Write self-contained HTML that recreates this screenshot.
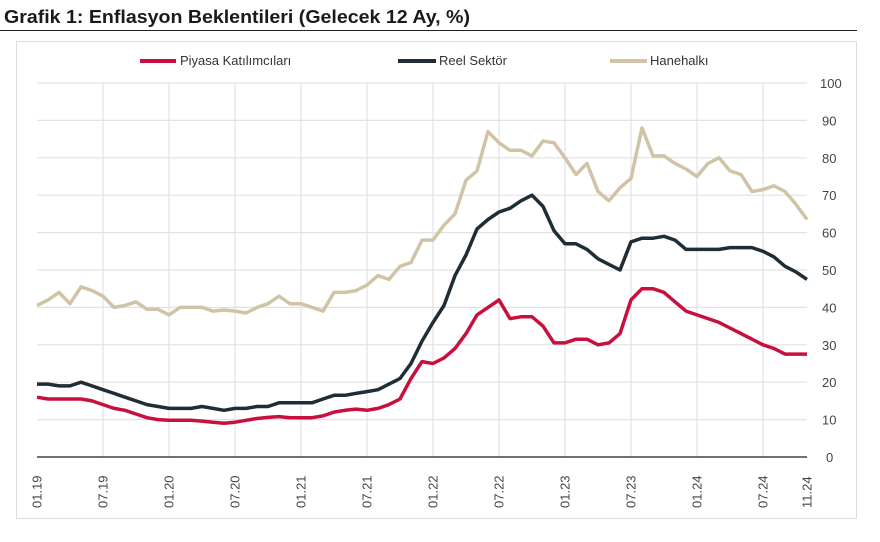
<!DOCTYPE html>
<html><head><meta charset="utf-8"><style>
body{margin:0;background:#fff;width:880px;height:537px;overflow:hidden;font-family:"Liberation Sans",sans-serif}
</style></head><body>
<svg id="s" width="880" height="537" xmlns="http://www.w3.org/2000/svg" font-family="Liberation Sans, sans-serif">
<text x="4" y="23" font-size="18" font-weight="bold" fill="#1a1a1a" textLength="466" lengthAdjust="spacingAndGlyphs">Grafik 1: Enflasyon Beklentileri (Gelecek 12 Ay, %)</text>
<line x1="0" y1="30.5" x2="857" y2="30.5" stroke="#222" stroke-width="1"/>
<rect x="16.5" y="41.5" width="840" height="477" fill="none" stroke="#ddd"/>
<line x1="140" y1="61" x2="176" y2="61" stroke="#c8103e" stroke-width="4"/>
<text x="180" y="65" font-size="13" fill="#333">Piyasa Katılımcıları</text>
<line x1="398" y1="61" x2="436" y2="61" stroke="#1f2d36" stroke-width="4"/>
<text x="439" y="65" font-size="13" fill="#333">Reel Sektör</text>
<line x1="610" y1="61" x2="647" y2="61" stroke="#d1c4a6" stroke-width="4"/>
<text x="650" y="65" font-size="13" fill="#333">Hanehalkı</text>
<g id="g"></g>
</svg>
<script>
var g=document.getElementById('g'),h='';
var X=function(i){return 37+i*11}, Y=function(v){return 457-v*3.74};
for(var v=10;v<=100;v+=10){h+='<line x1="37" x2="807" y1="'+Y(v)+'" y2="'+Y(v)+'" stroke="#e2e2e2" stroke-width="1.2"/>';}
var labs=['01.19','07.19','01.20','07.20','01.21','07.21','01.22','07.22','01.23','07.23','01.24','07.24','11.24'];
for(var k=0;k<13;k++){var i=k<12?k*6:70,x=X(i);
 if(k>0&&k<12)h+='<line x1="'+x+'" x2="'+x+'" y1="83" y2="457" stroke="#e2e2e2" stroke-width="1.2"/>';
 h+='<text transform="translate('+(x+4.5)+',508) rotate(-90)" font-size="13" fill="#444">'+labs[k]+'</text>';}
for(var v=0;v<=100;v+=10){h+='<text x="'+(v==100?820:(v==0?826:822))+'" y="'+(Y(v)+5)+'" font-size="13" fill="#444">'+v+'</text>';}
h+='<line x1="37" x2="807" y1="457" y2="457" stroke="#444" stroke-width="1.5"/>';
var H=[40.5,42,44,41,45.5,44.5,43,40,40.5,41.5,39.5,39.5,38,40,40,40,39,39.3,39,38.5,40,41,43,41,41,40,39,44,44,44.5,46,48.5,47.5,51,52,58,58,62,65,74,76.5,87,84,82,82,80.5,84.5,84,80,75.5,78.5,71,68.5,72,74.5,88,80.5,80.5,78.5,77,75,78.5,80,76.5,75.5,71,71.5,72.5,71,67.5,63.5];
var R=[19.5,19.5,19,19,20,19,18,17,16,15,14,13.5,13,13,13,13.5,13,12.5,13,13,13.5,13.5,14.5,14.5,14.5,14.5,15.5,16.5,16.5,17,17.5,18,19.5,21,25,31,36,40.5,48.5,54,61,63.5,65.5,66.5,68.5,70,67,60.5,57,57,55.5,53,51.5,50,57.5,58.5,58.5,59,58,55.5,55.5,55.5,55.5,56,56,56,55,53.5,51,49.5,47.5];
var P=[16,15.5,15.5,15.5,15.5,15,14,13,12.5,11.5,10.5,10,9.8,9.8,9.8,9.6,9.3,9,9.3,9.8,10.3,10.6,10.8,10.5,10.5,10.5,11,12,12.5,12.8,12.5,13,14,15.5,21,25.5,25,26.5,29,33,38,40,42,37,37.5,37.5,35,30.5,30.5,31.5,31.5,30,30.5,33,42,45,45,44,41.5,39,38,37,36,34.5,33,31.5,30,29,27.5,27.5,27.5];
function pl(a,c){return '<polyline fill="none" stroke="'+c+'" stroke-width="3.5" stroke-linejoin="round" points="'+a.map(function(v,i){return X(i)+','+Y(v).toFixed(1)}).join(' ')+'"/>';}
h+=pl(H,'#d1c4a6')+pl(R,'#1f2d36')+pl(P,'#c8103e');
g.innerHTML=h;
</script>
</body></html>
